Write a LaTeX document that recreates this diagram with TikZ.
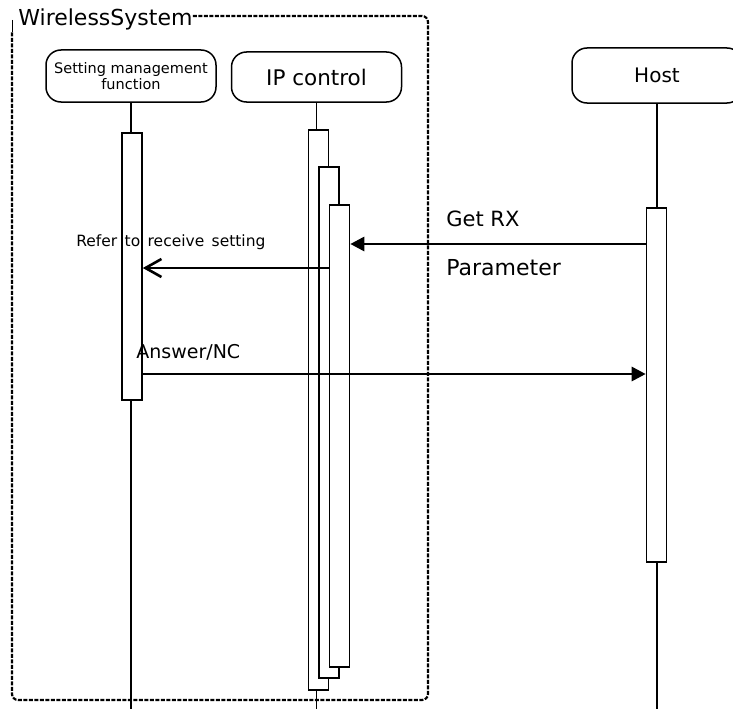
\documentclass[tikz,border=0pt]{standalone}
\usepackage{fontspec}
\setmainfont{DejaVu Sans}
\newfontfamily\widespaced[WordSpace=1.5]{DejaVu Sans}
\usetikzlibrary{arrows.meta}

\tikzset{every picture/.style={line width=0.75pt}}
\tikzset{
  head/.style={draw, line width=1.5pt, rounded corners=15pt, minimum width=170pt, inner sep=2pt, align=center, font=\fontsize{21.5}{24}\selectfont},
  actbox/.style={draw, line width=1.6pt, fill=white, minimum width=20pt, inner sep=0pt, anchor=north},
  lifeline/.style={line width=1.6pt},
  msg/.style={line width=2.8pt},
  msglabel/.style={anchor=west, inner sep=0pt, font=\fontsize{21}{24}\selectfont},
}

\begin{document}
\begin{tikzpicture}[x=1pt,y=1pt,yscale=-1,xscale=1]
		\path[use as bounding box] (0,0) rectangle (733,709);
		\clip (0,0) rectangle (733,709);

		% frame
		\node[msglabel, font=\fontsize{22}{24}\selectfont] (wslabel) at (18,19) {WirelessSystem};
		\draw[line width=2.2pt, dash pattern=on 4pt off 1.5pt, rounded corners=6pt] (wslabel.east |- 0,16) -- (428,16) -- (428,700) -- (12,700) -- (12,32);
		\draw[line width=0.5pt] (12,20) -- (12,32);

		% heads
		\node[head, minimum height=52pt, font=\fontsize{14.5}{15.5}\selectfont] (smhead) at (131,76) {Setting management\\function};
		\node[head, minimum height=50pt] (iphead) at (316.5,77) {IP control};
		\node[head, minimum height=55pt, font=\fontsize{20}{24}\selectfont] (hosthead) at (657,75.5) {Host};

		% lifelines
		\coordinate (bottom) at (0,709);
		\draw[lifeline] (smhead.south) -- (smhead.south |- bottom);
		\draw[lifeline] (iphead.south) -- (iphead.south |- bottom);
		\draw[lifeline] (hosthead.south) -- (hosthead.south |- bottom);

		% activations
		\node[actbox, minimum height=267pt] (smact) at (132,132) {};
		\node[actbox, minimum height=560pt] (ipact1) at (318.5,129) {};
		\node[actbox, minimum height=511pt] (ipact2) at (329,166) {};
		\node[actbox, minimum height=462pt] (ipact3) at (339.5,204) {};
		\node[actbox, minimum height=354pt] (hostact) at (656.5,207) {};

		% messages
		\coordinate (getrx) at (0,244);
		\coordinate (refer) at (0,268);
		\coordinate (answer) at (0,374);
		\draw[msg, -{Triangle[length=14pt,width=14pt]}] (hostact.west |- getrx) -- (ipact3.east |- getrx);
		\draw[msg, -{Straight Barb[length=16pt,width=18pt,line width=2.6pt]}] (ipact3.west |- refer) -- (smact.east |- refer);
		\draw[msg, -{Triangle[length=14pt,width=14pt]}] (smact.east |- answer) -- (hostact.west |- answer);

		\node[msglabel] (getrxlbl) at (446,219) {Get RX};
		\node[msglabel, font=\fontsize{22}{24}\selectfont] (paramlbl) at (446,268) {Parameter};
		\node[msglabel, font=\widespaced\fontsize{15.5}{18}\selectfont] (referlbl) at (76,242) {Refer to receive setting};
		\node[msglabel, font=\fontsize{19}{23}\selectfont] (answerlbl) at (136,352) {Answer/NC};

\end{tikzpicture}
\end{document}
